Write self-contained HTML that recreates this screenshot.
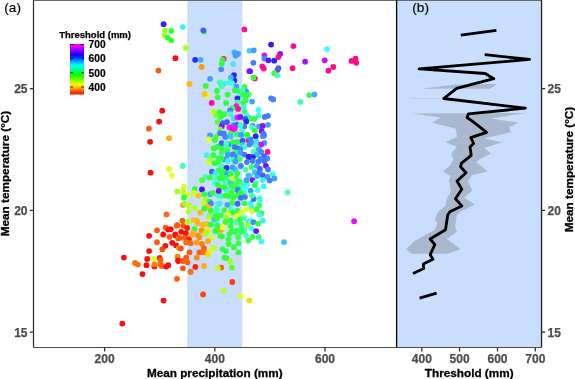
<!DOCTYPE html><html><head><meta charset="utf-8"><style>html,body{margin:0;padding:0;background:#fff;overflow:hidden}</style></head><body><svg width="575" height="379" viewBox="0 0 575 379" style="display:block;will-change:transform"><rect width="575" height="379" fill="#fff"/><rect x="187.2" y="0" width="55.1" height="347.5" fill="#C9DEFC"/><rect x="396.5" y="0" width="145" height="347.5" fill="#C9DEFC"/><circle cx="248.5" cy="140.6" r="2.9" fill="#ff0d9a"/><circle cx="163.6" cy="24.2" r="2.9" fill="#2626ff"/><circle cx="165.1" cy="30.3" r="2.9" fill="#a5ff26"/><circle cx="171.3" cy="30.9" r="2.9" fill="#33ff3a"/><circle cx="164.6" cy="35.5" r="2.9" fill="#9aff26"/><circle cx="167.6" cy="37.8" r="2.9" fill="#33ff3a"/><circle cx="171.3" cy="40.3" r="2.9" fill="#33ff3a"/><circle cx="182.8" cy="27.1" r="2.9" fill="#40efff"/><circle cx="204.1" cy="31.5" r="2.9" fill="#33ff3a"/><circle cx="203.3" cy="30.3" r="2.9" fill="#4060ff"/><circle cx="244.4" cy="29.4" r="2.9" fill="#ff0d9a"/><circle cx="185.9" cy="48.0" r="2.9" fill="#a5ff26"/><circle cx="175.4" cy="58.2" r="2.9" fill="#ff0d0d"/><circle cx="158.5" cy="70.6" r="2.9" fill="#ff550d"/><circle cx="162.2" cy="110.7" r="2.9" fill="#ff0d0d"/><circle cx="159.1" cy="121.6" r="2.9" fill="#ff0d0d"/><circle cx="148.9" cy="128.7" r="2.9" fill="#ff5d0d"/><circle cx="150.1" cy="141.8" r="2.9" fill="#ff0d0d"/><circle cx="169.1" cy="138.2" r="2.9" fill="#ffae0d"/><circle cx="150.6" cy="172.7" r="2.9" fill="#ff0d0d"/><circle cx="169.1" cy="169.1" r="2.9" fill="#dbff26"/><circle cx="171.9" cy="175.5" r="2.9" fill="#edff26"/><circle cx="182.9" cy="166.0" r="2.9" fill="#40ffaf"/><circle cx="195.2" cy="59.8" r="2.9" fill="#2626ff"/><circle cx="200.6" cy="59.8" r="2.9" fill="#40afff"/><circle cx="201.6" cy="66.9" r="2.9" fill="#ff9a0d"/><circle cx="189.5" cy="84.0" r="2.9" fill="#ffb60d"/><circle cx="223.6" cy="59.0" r="2.9" fill="#ff0d86"/><circle cx="222.5" cy="59.8" r="2.9" fill="#33ff3a"/><circle cx="221.7" cy="63.7" r="2.9" fill="#33ff3a"/><circle cx="221.2" cy="69.3" r="2.9" fill="#408fff"/><circle cx="233.2" cy="64.1" r="2.9" fill="#40e5ff"/><circle cx="234.3" cy="52.3" r="2.9" fill="#40afff"/><circle cx="238.0" cy="53.9" r="2.9" fill="#409fff"/><circle cx="235.6" cy="55.5" r="2.9" fill="#4099ff"/><circle cx="249.4" cy="50.8" r="2.9" fill="#40cfff"/><circle cx="249.4" cy="71.2" r="2.9" fill="#860dff"/><circle cx="210.1" cy="78.8" r="2.9" fill="#409fff"/><circle cx="234.0" cy="75.1" r="2.9" fill="#2626ff"/><circle cx="234.3" cy="80.4" r="2.9" fill="#2626ff"/><circle cx="230.8" cy="77.7" r="2.9" fill="#40bfff"/><circle cx="205.8" cy="85.9" r="2.9" fill="#33ff3a"/><circle cx="219.8" cy="82.4" r="2.9" fill="#40ffaf"/><circle cx="224.0" cy="83.5" r="2.9" fill="#40efff"/><circle cx="221.7" cy="86.2" r="2.9" fill="#40ff9f"/><circle cx="228.8" cy="82.4" r="2.9" fill="#40ffcf"/><circle cx="232.0" cy="83.1" r="2.9" fill="#40ffef"/><circle cx="236.4" cy="86.7" r="2.9" fill="#409fff"/><circle cx="234.8" cy="90.3" r="2.9" fill="#33ff3a"/><circle cx="244.6" cy="87.0" r="2.9" fill="#33ff3a"/><circle cx="246.2" cy="91.4" r="2.9" fill="#408fff"/><circle cx="242.2" cy="94.6" r="2.9" fill="#33ff55"/><circle cx="216.9" cy="91.0" r="2.9" fill="#33ff3a"/><circle cx="206.9" cy="95.4" r="2.9" fill="#dbff26"/><circle cx="204.6" cy="93.8" r="2.9" fill="#ffc20d"/><circle cx="217.7" cy="97.3" r="2.9" fill="#33ff3a"/><circle cx="227.7" cy="94.6" r="2.9" fill="#33ff3a"/><circle cx="237.5" cy="98.3" r="2.9" fill="#2626ff"/><circle cx="245.4" cy="98.6" r="2.9" fill="#33ff3a"/><circle cx="271.1" cy="44.6" r="2.9" fill="#490dff"/><circle cx="293.4" cy="46.1" r="2.9" fill="#ff0d9a"/><circle cx="327.0" cy="49.2" r="2.9" fill="#40ffff"/><circle cx="253.8" cy="50.3" r="2.9" fill="#409fff"/><circle cx="264.4" cy="55.5" r="2.9" fill="#d70dff"/><circle cx="264.4" cy="58.6" r="2.9" fill="#408fff"/><circle cx="268.4" cy="60.3" r="2.9" fill="#5d0dff"/><circle cx="274.2" cy="60.7" r="2.9" fill="#2626ff"/><circle cx="280.1" cy="54.0" r="2.9" fill="#9a0dff"/><circle cx="278.4" cy="57.1" r="2.9" fill="#ff0d86"/><circle cx="253.4" cy="62.8" r="2.9" fill="#407fff"/><circle cx="305.1" cy="61.7" r="2.9" fill="#ae0dff"/><circle cx="324.7" cy="60.3" r="2.9" fill="#c20dff"/><circle cx="351.5" cy="60.9" r="2.9" fill="#ff0d86"/><circle cx="355.6" cy="58.6" r="2.9" fill="#ff0d86"/><circle cx="356.3" cy="62.8" r="2.9" fill="#ff0d86"/><circle cx="333.3" cy="67.0" r="2.9" fill="#ff0d86"/><circle cx="328.5" cy="70.7" r="2.9" fill="#ff0d86"/><circle cx="292.6" cy="68.2" r="2.9" fill="#ff0d9a"/><circle cx="250.2" cy="71.3" r="2.9" fill="#860dff"/><circle cx="262.3" cy="66.5" r="2.9" fill="#ff0d9a"/><circle cx="263.8" cy="68.6" r="2.9" fill="#ff0d9a"/><circle cx="277.4" cy="70.1" r="2.9" fill="#ff0d9a"/><circle cx="278.4" cy="68.2" r="2.9" fill="#4060ff"/><circle cx="274.2" cy="73.2" r="2.9" fill="#33ff3a"/><circle cx="277.4" cy="75.3" r="2.9" fill="#40ffbf"/><circle cx="254.8" cy="78.4" r="2.9" fill="#ff0d86"/><circle cx="253.4" cy="77.4" r="2.9" fill="#33ff3a"/><circle cx="271.1" cy="98.3" r="2.9" fill="#4086ff"/><circle cx="273.2" cy="99.4" r="2.9" fill="#4086ff"/><circle cx="309.2" cy="95.1" r="2.9" fill="#33ff55"/><circle cx="314.4" cy="94.5" r="2.9" fill="#40afff"/><circle cx="300.3" cy="101.9" r="2.9" fill="#40ffaf"/><circle cx="211.7" cy="102.9" r="2.9" fill="#ff0d9a"/><circle cx="226.2" cy="102.9" r="2.9" fill="#33ff3a"/><circle cx="237.5" cy="102.3" r="2.9" fill="#40ff9f"/><circle cx="236.2" cy="106.2" r="2.9" fill="#ff0deb"/><circle cx="238.2" cy="108.9" r="2.9" fill="#ff0d9a"/><circle cx="232.3" cy="108.2" r="2.9" fill="#33ff55"/><circle cx="246.8" cy="135.2" r="2.9" fill="#33ff3a"/><circle cx="243.5" cy="137.2" r="2.9" fill="#40ffff"/><circle cx="184.0" cy="186.4" r="2.9" fill="#dbff26"/><circle cx="206.7" cy="155.2" r="2.9" fill="#40efff"/><circle cx="213.3" cy="155.2" r="2.9" fill="#33ff3a"/><circle cx="218.5" cy="158.5" r="2.9" fill="#33ff3a"/><circle cx="210.0" cy="159.8" r="2.9" fill="#9aff26"/><circle cx="208.6" cy="161.8" r="2.9" fill="#c9ff26"/><circle cx="214.6" cy="163.1" r="2.9" fill="#33ff3a"/><circle cx="218.5" cy="162.4" r="2.9" fill="#33ff3a"/><circle cx="214.6" cy="172.3" r="2.9" fill="#40efff"/><circle cx="211.9" cy="171.7" r="2.9" fill="#4060ff"/><circle cx="205.6" cy="176.9" r="2.9" fill="#40ffbf"/><circle cx="210.0" cy="177.6" r="2.9" fill="#33ff3a"/><circle cx="202.0" cy="180.2" r="2.9" fill="#55ff33"/><circle cx="214.6" cy="182.9" r="2.9" fill="#40ffff"/><circle cx="194.8" cy="188.8" r="2.9" fill="#33ff3a"/><circle cx="202.0" cy="189.5" r="2.9" fill="#490dff"/><circle cx="287.7" cy="192.3" r="2.9" fill="#40ffcf"/><circle cx="177.3" cy="191.6" r="2.9" fill="#a5ff26"/><circle cx="183.2" cy="191.6" r="2.9" fill="#b7ff26"/><circle cx="193.7" cy="192.9" r="2.9" fill="#c9ff26"/><circle cx="187.2" cy="194.9" r="2.9" fill="#d4ff26"/><circle cx="198.4" cy="195.6" r="2.9" fill="#ffc20d"/><circle cx="204.3" cy="194.2" r="2.9" fill="#33ff3a"/><circle cx="210.2" cy="194.2" r="2.9" fill="#40afff"/><circle cx="183.9" cy="197.5" r="2.9" fill="#33ff3a"/><circle cx="212.9" cy="192.9" r="2.9" fill="#33ff3a"/><circle cx="205.6" cy="199.5" r="2.9" fill="#a5ff26"/><circle cx="209.6" cy="201.5" r="2.9" fill="#33ff3a"/><circle cx="210.9" cy="203.5" r="2.9" fill="#4086ff"/><circle cx="183.2" cy="204.8" r="2.9" fill="#ff860d"/><circle cx="184.5" cy="203.5" r="2.9" fill="#a5ff26"/><circle cx="189.1" cy="205.4" r="2.9" fill="#b7ff26"/><circle cx="195.1" cy="208.1" r="2.9" fill="#b7ff26"/><circle cx="203.6" cy="203.5" r="2.9" fill="#c9ff26"/><circle cx="206.3" cy="206.8" r="2.9" fill="#ffc20d"/><circle cx="208.3" cy="207.4" r="2.9" fill="#ffc20d"/><circle cx="204.3" cy="208.7" r="2.9" fill="#33ff3a"/><circle cx="218.2" cy="204.1" r="2.9" fill="#40efff"/><circle cx="210.9" cy="210.7" r="2.9" fill="#33ff3a"/><circle cx="216.8" cy="209.4" r="2.9" fill="#40ffbf"/><circle cx="188.5" cy="211.4" r="2.9" fill="#b7ff26"/><circle cx="200.3" cy="212.7" r="2.9" fill="#ffb60d"/><circle cx="209.6" cy="216.7" r="2.9" fill="#33ff3a"/><circle cx="216.8" cy="214.0" r="2.9" fill="#40ffbf"/><circle cx="182.5" cy="220.6" r="2.9" fill="#ff5d0d"/><circle cx="187.8" cy="221.9" r="2.9" fill="#a5ff26"/><circle cx="193.7" cy="220.0" r="2.9" fill="#ffc20d"/><circle cx="197.0" cy="220.6" r="2.9" fill="#ffb60d"/><circle cx="197.7" cy="223.3" r="2.9" fill="#ffb60d"/><circle cx="209.6" cy="217.3" r="2.9" fill="#b7ff26"/><circle cx="214.2" cy="219.3" r="2.9" fill="#40bfff"/><circle cx="215.5" cy="216.0" r="2.9" fill="#33ff3a"/><circle cx="177.3" cy="225.2" r="2.9" fill="#ff5d0d"/><circle cx="183.2" cy="225.9" r="2.9" fill="#ff550d"/><circle cx="203.0" cy="224.6" r="2.9" fill="#ffb60d"/><circle cx="206.9" cy="223.9" r="2.9" fill="#ffc20d"/><circle cx="210.9" cy="224.6" r="2.9" fill="#33ff3a"/><circle cx="216.8" cy="224.6" r="2.9" fill="#40ffbf"/><circle cx="187.2" cy="227.9" r="2.9" fill="#ff210d"/><circle cx="170.7" cy="229.2" r="2.9" fill="#ff0d0d"/><circle cx="181.2" cy="231.8" r="2.9" fill="#ff0d0d"/><circle cx="185.8" cy="233.2" r="2.9" fill="#ff0d0d"/><circle cx="194.4" cy="229.2" r="2.9" fill="#33ff3a"/><circle cx="201.7" cy="230.5" r="2.9" fill="#ff8e0d"/><circle cx="207.6" cy="229.9" r="2.9" fill="#ffeb0d"/><circle cx="193.1" cy="233.2" r="2.9" fill="#ffb60d"/><circle cx="216.2" cy="231.2" r="2.9" fill="#33ff3a"/><circle cx="175.3" cy="234.5" r="2.9" fill="#ff0d0d"/><circle cx="205.0" cy="233.5" r="2.9" fill="#33ff3a"/><circle cx="219.6" cy="203.5" r="2.9" fill="#40efff"/><circle cx="227.5" cy="204.8" r="2.9" fill="#409fff"/><circle cx="232.2" cy="202.8" r="2.9" fill="#33ff3a"/><circle cx="217.0" cy="208.1" r="2.9" fill="#40ffbf"/><circle cx="224.2" cy="210.1" r="2.9" fill="#33ff3a"/><circle cx="230.8" cy="209.4" r="2.9" fill="#40ffbf"/><circle cx="220.9" cy="215.3" r="2.9" fill="#33ff3a"/><circle cx="228.2" cy="213.4" r="2.9" fill="#dbff26"/><circle cx="233.5" cy="212.7" r="2.9" fill="#33ff3a"/><circle cx="217.0" cy="218.6" r="2.9" fill="#33ff3a"/><circle cx="226.2" cy="218.0" r="2.9" fill="#9aff26"/><circle cx="230.8" cy="220.6" r="2.9" fill="#33ff3a"/><circle cx="225.6" cy="221.9" r="2.9" fill="#33ff3a"/><circle cx="217.6" cy="225.9" r="2.9" fill="#33ff3a"/><circle cx="220.9" cy="229.9" r="2.9" fill="#ffa60d"/><circle cx="222.9" cy="227.2" r="2.9" fill="#ffff26"/><circle cx="230.8" cy="225.9" r="2.9" fill="#33ff3a"/><circle cx="216.3" cy="230.5" r="2.9" fill="#33ff3a"/><circle cx="234.8" cy="231.8" r="2.9" fill="#33ff3a"/><circle cx="229.5" cy="233.8" r="2.9" fill="#33ff3a"/><circle cx="166.5" cy="214.4" r="2.9" fill="#ff660d"/><circle cx="157.0" cy="230.3" r="2.9" fill="#ff5d0d"/><circle cx="165.6" cy="227.6" r="2.9" fill="#ff5d0d"/><circle cx="168.3" cy="229.6" r="2.9" fill="#ff0d0d"/><circle cx="176.8" cy="225.7" r="2.9" fill="#ff5d0d"/><circle cx="149.1" cy="235.8" r="2.9" fill="#ff0d0d"/><circle cx="163.2" cy="234.5" r="2.9" fill="#ff0d0d"/><circle cx="169.6" cy="236.9" r="2.9" fill="#ff5d0d"/><circle cx="175.5" cy="235.6" r="2.9" fill="#ff0d0d"/><circle cx="178.2" cy="238.2" r="2.9" fill="#ff660d"/><circle cx="157.0" cy="242.2" r="2.9" fill="#ff5d0d"/><circle cx="172.2" cy="242.8" r="2.9" fill="#ff0d0d"/><circle cx="165.4" cy="245.8" r="2.9" fill="#ff0d0d"/><circle cx="176.2" cy="245.4" r="2.9" fill="#ff0d0d"/><circle cx="162.3" cy="249.4" r="2.9" fill="#ff490d"/><circle cx="178.8" cy="248.1" r="2.9" fill="#ff9a0d"/><circle cx="149.1" cy="251.1" r="2.9" fill="#ff0d0d"/><circle cx="123.9" cy="257.6" r="2.9" fill="#ff0d0d"/><circle cx="177.5" cy="256.7" r="2.9" fill="#ff7e0d"/><circle cx="178.2" cy="260.6" r="2.9" fill="#ff0d0d"/><circle cx="147.2" cy="259.0" r="2.9" fill="#ff0d0d"/><circle cx="153.7" cy="259.0" r="2.9" fill="#e2ff26"/><circle cx="159.7" cy="258.0" r="2.9" fill="#ff210d"/><circle cx="160.6" cy="260.0" r="2.9" fill="#ff550d"/><circle cx="135.0" cy="263.0" r="2.9" fill="#ff6e0d"/><circle cx="137.9" cy="264.6" r="2.9" fill="#ff6e0d"/><circle cx="146.5" cy="265.2" r="2.9" fill="#ff0d0d"/><circle cx="154.4" cy="266.6" r="2.9" fill="#ff0d0d"/><circle cx="154.4" cy="264.3" r="2.9" fill="#ff7e0d"/><circle cx="160.3" cy="263.9" r="2.9" fill="#ff660d"/><circle cx="161.7" cy="265.9" r="2.9" fill="#ff550d"/><circle cx="166.3" cy="266.6" r="2.9" fill="#ff0d0d"/><circle cx="168.3" cy="265.2" r="2.9" fill="#ff0d0d"/><circle cx="142.5" cy="274.1" r="2.9" fill="#ff0d0d"/><circle cx="179.6" cy="237.9" r="2.9" fill="#ff550d"/><circle cx="184.9" cy="237.9" r="2.9" fill="#ff5d0d"/><circle cx="188.9" cy="239.2" r="2.9" fill="#ff210d"/><circle cx="192.2" cy="234.6" r="2.9" fill="#ffae0d"/><circle cx="198.1" cy="235.3" r="2.9" fill="#ff8e0d"/><circle cx="205.3" cy="233.3" r="2.9" fill="#ffd70d"/><circle cx="206.7" cy="232.6" r="2.9" fill="#a5ff26"/><circle cx="211.9" cy="237.3" r="2.9" fill="#d4ff26"/><circle cx="215.2" cy="231.3" r="2.9" fill="#33ff3a"/><circle cx="220.5" cy="235.9" r="2.9" fill="#33ff3a"/><circle cx="199.4" cy="237.3" r="2.9" fill="#ff8e0d"/><circle cx="208.0" cy="241.2" r="2.9" fill="#ffae0d"/><circle cx="186.2" cy="242.5" r="2.9" fill="#ff6e0d"/><circle cx="190.8" cy="243.2" r="2.9" fill="#ff6e0d"/><circle cx="196.8" cy="242.5" r="2.9" fill="#ff9e0d"/><circle cx="202.0" cy="243.9" r="2.9" fill="#ff7e0d"/><circle cx="180.9" cy="248.5" r="2.9" fill="#ff550d"/><circle cx="204.0" cy="248.5" r="2.9" fill="#ff5d0d"/><circle cx="213.9" cy="247.8" r="2.9" fill="#b7ff26"/><circle cx="210.6" cy="250.4" r="2.9" fill="#d4ff26"/><circle cx="222.5" cy="249.1" r="2.9" fill="#33ff3a"/><circle cx="189.5" cy="252.4" r="2.9" fill="#ff5d0d"/><circle cx="199.4" cy="252.4" r="2.9" fill="#ff5d0d"/><circle cx="204.0" cy="252.4" r="2.9" fill="#ff6e0d"/><circle cx="208.0" cy="254.4" r="2.9" fill="#ffd70d"/><circle cx="186.2" cy="257.7" r="2.9" fill="#ff5d0d"/><circle cx="196.8" cy="257.7" r="2.9" fill="#ff8e0d"/><circle cx="224.5" cy="257.7" r="2.9" fill="#33ff3a"/><circle cx="178.3" cy="261.0" r="2.9" fill="#ff0d0d"/><circle cx="182.9" cy="261.0" r="2.9" fill="#ff550d"/><circle cx="187.5" cy="262.3" r="2.9" fill="#ff5d0d"/><circle cx="195.4" cy="266.9" r="2.9" fill="#ff210d"/><circle cx="204.0" cy="265.9" r="2.9" fill="#ffae0d"/><circle cx="182.9" cy="268.3" r="2.9" fill="#ff550d"/><circle cx="190.6" cy="272.0" r="2.9" fill="#ff6e0d"/><circle cx="221.2" cy="267.6" r="2.9" fill="#ff5d0d"/><circle cx="217.9" cy="268.3" r="2.9" fill="#b7ff26"/><circle cx="177.0" cy="278.8" r="2.9" fill="#ff5d0d"/><circle cx="231.9" cy="230.7" r="2.9" fill="#33ff3a"/><circle cx="261.3" cy="241.6" r="2.9" fill="#40f9ff"/><circle cx="228.6" cy="239.2" r="2.9" fill="#33ff3a"/><circle cx="248.4" cy="240.6" r="2.9" fill="#33ff55"/><circle cx="228.6" cy="243.9" r="2.9" fill="#33ff3a"/><circle cx="238.5" cy="243.2" r="2.9" fill="#33ff3a"/><circle cx="233.9" cy="247.2" r="2.9" fill="#33ff3a"/><circle cx="225.9" cy="251.1" r="2.9" fill="#33ff4e"/><circle cx="238.5" cy="252.4" r="2.9" fill="#33ff3a"/><circle cx="226.6" cy="258.1" r="2.9" fill="#33ff3a"/><circle cx="230.3" cy="261.7" r="2.9" fill="#a5ff26"/><circle cx="231.9" cy="267.6" r="2.9" fill="#55ff33"/><circle cx="163.6" cy="300.6" r="2.9" fill="#ff0d0d"/><circle cx="122.3" cy="323.6" r="2.9" fill="#ff0d0d"/><circle cx="232.3" cy="282.0" r="2.9" fill="#ff3d0d"/><circle cx="223.6" cy="290.7" r="2.9" fill="#beff26"/><circle cx="203.1" cy="294.4" r="2.9" fill="#ff450d"/><circle cx="240.6" cy="296.4" r="2.9" fill="#e2ff26"/><circle cx="249.5" cy="300.5" r="2.9" fill="#ffd70d"/><circle cx="354.1" cy="221.2" r="2.9" fill="#eb0dff"/><circle cx="284.1" cy="242.1" r="2.9" fill="#40bfff"/><circle cx="221.6" cy="143.2" r="2.9" fill="#4066ff"/><circle cx="228.7" cy="144.4" r="2.9" fill="#407fff"/><circle cx="226.3" cy="143.6" r="2.9" fill="#40ffbf"/><circle cx="233.1" cy="142.4" r="2.9" fill="#33ff3a"/><circle cx="237.8" cy="142.0" r="2.9" fill="#33ff3a"/><circle cx="242.6" cy="140.8" r="2.9" fill="#4050ff"/><circle cx="243.0" cy="144.8" r="2.9" fill="#40bfff"/><circle cx="244.5" cy="147.1" r="2.9" fill="#40ffbf"/><circle cx="234.6" cy="147.1" r="2.9" fill="#4079ff"/><circle cx="237.8" cy="148.3" r="2.9" fill="#4066ff"/><circle cx="240.2" cy="149.5" r="2.9" fill="#4086ff"/><circle cx="222.0" cy="148.3" r="2.9" fill="#33ff3a"/><circle cx="221.6" cy="152.7" r="2.9" fill="#33ff77"/><circle cx="227.9" cy="148.7" r="2.9" fill="#40ff9f"/><circle cx="227.1" cy="151.9" r="2.9" fill="#33ff3a"/><circle cx="235.8" cy="152.3" r="2.9" fill="#33ff3a"/><circle cx="232.7" cy="154.3" r="2.9" fill="#4079ff"/><circle cx="227.9" cy="155.0" r="2.9" fill="#409fff"/><circle cx="235.0" cy="156.6" r="2.9" fill="#4086ff"/><circle cx="240.6" cy="152.7" r="2.9" fill="#409fff"/><circle cx="244.5" cy="154.6" r="2.9" fill="#4079ff"/><circle cx="248.5" cy="157.0" r="2.9" fill="#3826ff"/><circle cx="224.4" cy="159.4" r="2.9" fill="#4099ff"/><circle cx="221.2" cy="158.2" r="2.9" fill="#33ff3a"/><circle cx="227.9" cy="161.0" r="2.9" fill="#40efff"/><circle cx="232.7" cy="159.8" r="2.9" fill="#40ffaf"/><circle cx="239.8" cy="159.0" r="2.9" fill="#33ff66"/><circle cx="235.4" cy="161.4" r="2.9" fill="#409fff"/><circle cx="255.7" cy="136.2" r="2.9" fill="#2626ff"/><circle cx="264.0" cy="135.4" r="2.9" fill="#4079ff"/><circle cx="262.8" cy="136.2" r="2.9" fill="#4099ff"/><circle cx="250.5" cy="139.4" r="2.9" fill="#4086ff"/><circle cx="249.4" cy="144.5" r="2.9" fill="#4086ff"/><circle cx="253.3" cy="142.9" r="2.9" fill="#408fff"/><circle cx="256.5" cy="141.7" r="2.9" fill="#40dfff"/><circle cx="255.7" cy="145.7" r="2.9" fill="#40ffbf"/><circle cx="264.4" cy="142.9" r="2.9" fill="#4099ff"/><circle cx="261.2" cy="144.5" r="2.9" fill="#d70dff"/><circle cx="267.6" cy="152.0" r="2.9" fill="#ff0d9a"/><circle cx="253.7" cy="151.6" r="2.9" fill="#40ffbf"/><circle cx="258.9" cy="149.6" r="2.9" fill="#409fff"/><circle cx="261.2" cy="152.0" r="2.9" fill="#408fff"/><circle cx="256.9" cy="154.8" r="2.9" fill="#40afff"/><circle cx="249.8" cy="156.8" r="2.9" fill="#2626ff"/><circle cx="252.9" cy="157.2" r="2.9" fill="#3826ff"/><circle cx="264.0" cy="156.4" r="2.9" fill="#4060ff"/><circle cx="267.2" cy="158.4" r="2.9" fill="#4086ff"/><circle cx="260.8" cy="158.8" r="2.9" fill="#4086ff"/><circle cx="230.1" cy="110.5" r="2.9" fill="#4086ff"/><circle cx="213.7" cy="111.6" r="2.9" fill="#b7ff26"/><circle cx="219.5" cy="112.1" r="2.9" fill="#33ff3a"/><circle cx="224.3" cy="114.2" r="2.9" fill="#33ff3a"/><circle cx="215.8" cy="115.3" r="2.9" fill="#88ff33"/><circle cx="220.6" cy="116.9" r="2.9" fill="#33ff3a"/><circle cx="230.6" cy="114.2" r="2.9" fill="#40ffbf"/><circle cx="233.8" cy="118.4" r="2.9" fill="#40dfff"/><circle cx="237.5" cy="117.4" r="2.9" fill="#ff0dff"/><circle cx="217.4" cy="122.1" r="2.9" fill="#55ff33"/><circle cx="222.7" cy="123.2" r="2.9" fill="#4066ff"/><circle cx="226.9" cy="122.1" r="2.9" fill="#4059ff"/><circle cx="221.6" cy="126.4" r="2.9" fill="#8e0dff"/><circle cx="220.1" cy="129.5" r="2.9" fill="#77ff33"/><circle cx="233.8" cy="125.3" r="2.9" fill="#4079ff"/><circle cx="236.9" cy="124.8" r="2.9" fill="#4059ff"/><circle cx="229.6" cy="127.4" r="2.9" fill="#ff0dff"/><circle cx="232.7" cy="129.5" r="2.9" fill="#d70dff"/><circle cx="234.8" cy="128.5" r="2.9" fill="#ff0deb"/><circle cx="230.6" cy="133.7" r="2.9" fill="#33ff3a"/><circle cx="236.9" cy="134.3" r="2.9" fill="#33ff55"/><circle cx="210.0" cy="135.3" r="2.9" fill="#409fff"/><circle cx="215.8" cy="136.9" r="2.9" fill="#55ff33"/><circle cx="220.1" cy="133.2" r="2.9" fill="#4086ff"/><circle cx="223.7" cy="133.7" r="2.9" fill="#4079ff"/><circle cx="225.3" cy="136.9" r="2.9" fill="#4086ff"/><circle cx="230.6" cy="136.5" r="2.9" fill="#40bfff"/><circle cx="209.0" cy="139.5" r="2.9" fill="#e2ff26"/><circle cx="214.8" cy="140.1" r="2.9" fill="#33ff3a"/><circle cx="217.4" cy="146.9" r="2.9" fill="#33ff3a"/><circle cx="213.7" cy="148.5" r="2.9" fill="#33ff3a"/><circle cx="237.6" cy="203.7" r="2.9" fill="#4066ff"/><circle cx="244.5" cy="203.2" r="2.9" fill="#33ff3a"/><circle cx="250.8" cy="203.2" r="2.9" fill="#40efff"/><circle cx="251.4" cy="207.4" r="2.9" fill="#40ffbf"/><circle cx="259.3" cy="205.3" r="2.9" fill="#33ff66"/><circle cx="259.8" cy="200.5" r="2.9" fill="#40ffcf"/><circle cx="256.6" cy="209.5" r="2.9" fill="#33ff4e"/><circle cx="245.6" cy="209.5" r="2.9" fill="#e2ff26"/><circle cx="251.9" cy="211.1" r="2.9" fill="#d4ff26"/><circle cx="237.6" cy="210.6" r="2.9" fill="#33ff4e"/><circle cx="240.8" cy="212.7" r="2.9" fill="#d4ff26"/><circle cx="236.6" cy="216.4" r="2.9" fill="#edff26"/><circle cx="261.4" cy="213.2" r="2.9" fill="#33ff3a"/><circle cx="259.3" cy="214.8" r="2.9" fill="#40ffef"/><circle cx="244.0" cy="217.9" r="2.9" fill="#40ffbf"/><circle cx="248.7" cy="221.6" r="2.9" fill="#33ff4e"/><circle cx="250.3" cy="220.6" r="2.9" fill="#40ffff"/><circle cx="253.5" cy="222.2" r="2.9" fill="#408fff"/><circle cx="263.0" cy="220.6" r="2.9" fill="#40efff"/><circle cx="258.2" cy="223.7" r="2.9" fill="#33ff3a"/><circle cx="248.2" cy="225.3" r="2.9" fill="#a5ff26"/><circle cx="236.6" cy="222.2" r="2.9" fill="#40ffaf"/><circle cx="241.3" cy="224.3" r="2.9" fill="#33ff4e"/><circle cx="244.5" cy="230.1" r="2.9" fill="#40ffaf"/><circle cx="251.4" cy="228.5" r="2.9" fill="#40ffff"/><circle cx="256.1" cy="231.1" r="2.9" fill="#720dff"/><circle cx="237.1" cy="230.6" r="2.9" fill="#33ff4e"/><circle cx="246.1" cy="235.4" r="2.9" fill="#40ffcf"/><circle cx="252.4" cy="236.9" r="2.9" fill="#33ff4e"/><circle cx="258.7" cy="236.9" r="2.9" fill="#33ff77"/><circle cx="238.2" cy="236.9" r="2.9" fill="#33ff4e"/><circle cx="241.5" cy="232.0" r="2.9" fill="#33ff4e"/><circle cx="242.0" cy="227.5" r="2.9" fill="#33ff77"/><circle cx="240.0" cy="219.5" r="2.9" fill="#33ff4e"/><circle cx="246.9" cy="162.1" r="2.9" fill="#407fff"/><circle cx="252.7" cy="161.1" r="2.9" fill="#407fff"/><circle cx="258.5" cy="161.6" r="2.9" fill="#4079ff"/><circle cx="264.3" cy="161.1" r="2.9" fill="#4079ff"/><circle cx="251.6" cy="166.9" r="2.9" fill="#33ff66"/><circle cx="256.9" cy="165.8" r="2.9" fill="#409fff"/><circle cx="265.9" cy="165.8" r="2.9" fill="#720dff"/><circle cx="260.0" cy="169.0" r="2.9" fill="#4066ff"/><circle cx="268.0" cy="169.5" r="2.9" fill="#407fff"/><circle cx="254.8" cy="172.1" r="2.9" fill="#40bfff"/><circle cx="250.0" cy="175.8" r="2.9" fill="#40d9ff"/><circle cx="262.7" cy="175.3" r="2.9" fill="#4059ff"/><circle cx="272.7" cy="174.2" r="2.9" fill="#40ffd9"/><circle cx="274.3" cy="178.5" r="2.9" fill="#409fff"/><circle cx="267.4" cy="176.9" r="2.9" fill="#4099ff"/><circle cx="269.6" cy="180.6" r="2.9" fill="#407fff"/><circle cx="252.5" cy="180.1" r="2.9" fill="#7e0dff"/><circle cx="255.8" cy="182.7" r="2.9" fill="#40ffb9"/><circle cx="262.7" cy="180.1" r="2.9" fill="#40efff"/><circle cx="263.7" cy="186.4" r="2.9" fill="#40efff"/><circle cx="254.8" cy="185.3" r="2.9" fill="#33ff4e"/><circle cx="250.6" cy="190.6" r="2.9" fill="#4099ff"/><circle cx="253.7" cy="199.0" r="2.9" fill="#4079ff"/><circle cx="259.5" cy="198.5" r="2.9" fill="#40ffbf"/><circle cx="257.5" cy="190.0" r="2.9" fill="#40ffef"/><circle cx="257.0" cy="176.0" r="2.9" fill="#40afff"/><circle cx="259.5" cy="172.5" r="2.9" fill="#4079ff"/><circle cx="252.0" cy="195.5" r="2.9" fill="#40ff9f"/><circle cx="245.8" cy="100.5" r="2.9" fill="#33ff4e"/><circle cx="252.1" cy="101.6" r="2.9" fill="#409fff"/><circle cx="243.7" cy="106.9" r="2.9" fill="#40efff"/><circle cx="244.7" cy="111.6" r="2.9" fill="#33ff66"/><circle cx="258.5" cy="110.0" r="2.9" fill="#40ffff"/><circle cx="258.5" cy="115.8" r="2.9" fill="#40ffcf"/><circle cx="250.0" cy="118.5" r="2.9" fill="#33ff3a"/><circle cx="254.2" cy="119.0" r="2.9" fill="#33ff3a"/><circle cx="264.8" cy="116.9" r="2.9" fill="#407fff"/><circle cx="268.0" cy="115.8" r="2.9" fill="#407fff"/><circle cx="240.5" cy="116.9" r="2.9" fill="#8e0dff"/><circle cx="246.9" cy="115.8" r="2.9" fill="#40efff"/><circle cx="245.3" cy="119.0" r="2.9" fill="#4059ff"/><circle cx="246.3" cy="121.6" r="2.9" fill="#2626ff"/><circle cx="268.0" cy="124.8" r="2.9" fill="#409fff"/><circle cx="244.2" cy="126.4" r="2.9" fill="#407fff"/><circle cx="240.5" cy="125.3" r="2.9" fill="#40ffbf"/><circle cx="252.7" cy="125.9" r="2.9" fill="#407fff"/><circle cx="252.1" cy="127.4" r="2.9" fill="#40ffbf"/><circle cx="259.0" cy="126.4" r="2.9" fill="#409fff"/><circle cx="262.7" cy="125.9" r="2.9" fill="#8e0dff"/><circle cx="261.6" cy="131.1" r="2.9" fill="#8e0dff"/><circle cx="254.8" cy="130.6" r="2.9" fill="#33ff3a"/><circle cx="263.7" cy="133.8" r="2.9" fill="#407fff"/><circle cx="242.1" cy="131.1" r="2.9" fill="#40ffbf"/><circle cx="247.4" cy="134.8" r="2.9" fill="#33ff3a"/><circle cx="241.1" cy="134.8" r="2.9" fill="#4099ff"/><circle cx="222.0" cy="236.6" r="2.9" fill="#33ff3a"/><circle cx="238.6" cy="91.2" r="2.9" fill="#33ff77"/><circle cx="242.5" cy="89.9" r="2.9" fill="#40ffaf"/><circle cx="243.9" cy="94.5" r="2.9" fill="#33ff4e"/><circle cx="248.5" cy="94.5" r="2.9" fill="#33ff66"/><circle cx="243.2" cy="102.4" r="2.9" fill="#33ff4e"/><circle cx="216.5" cy="178.0" r="2.9" fill="#40ffbf"/><circle cx="222.0" cy="175.5" r="2.9" fill="#33ff3a"/><circle cx="235.5" cy="186.5" r="2.9" fill="#33ff4e"/><circle cx="239.5" cy="187.5" r="2.9" fill="#33ff77"/><circle cx="219.5" cy="187.5" r="2.9" fill="#33ff3a"/><circle cx="229.0" cy="196.0" r="2.9" fill="#33ff3a"/><circle cx="237.0" cy="195.5" r="2.9" fill="#33ff3a"/><circle cx="221.5" cy="196.0" r="2.9" fill="#40ff9f"/><circle cx="244.5" cy="191.5" r="2.9" fill="#40ffdf"/><circle cx="247.5" cy="184.5" r="2.9" fill="#40ffef"/><circle cx="228.5" cy="170.0" r="2.9" fill="#40ffbf"/><circle cx="235.0" cy="169.5" r="2.9" fill="#40bfff"/><circle cx="229.0" cy="182.0" r="2.9" fill="#33ff3a"/><circle cx="236.5" cy="182.0" r="2.9" fill="#33ff77"/><circle cx="248.5" cy="175.5" r="2.9" fill="#40bfff"/><circle cx="221.5" cy="165.9" r="2.9" fill="#40ffbf"/><circle cx="226.5" cy="167.8" r="2.9" fill="#262dff"/><circle cx="232.5" cy="167.3" r="2.9" fill="#409fff"/><circle cx="240.9" cy="165.9" r="2.9" fill="#407fff"/><circle cx="245.5" cy="169.6" r="2.9" fill="#40ffaf"/><circle cx="218.7" cy="170.5" r="2.9" fill="#33ff3a"/><circle cx="223.3" cy="171.5" r="2.9" fill="#33ff3a"/><circle cx="215.5" cy="173.3" r="2.9" fill="#40efff"/><circle cx="227.0" cy="174.2" r="2.9" fill="#409fff"/><circle cx="230.7" cy="173.8" r="2.9" fill="#33ff3a"/><circle cx="237.2" cy="173.3" r="2.9" fill="#33ff3a"/><circle cx="220.5" cy="178.4" r="2.9" fill="#33ff3a"/><circle cx="225.5" cy="178.0" r="2.9" fill="#33ff66"/><circle cx="236.0" cy="178.5" r="2.9" fill="#33ff55"/><circle cx="232.5" cy="179.3" r="2.9" fill="#d4ff26"/><circle cx="246.4" cy="180.2" r="2.9" fill="#409fff"/><circle cx="225.2" cy="182.5" r="2.9" fill="#40ffbf"/><circle cx="239.9" cy="181.6" r="2.9" fill="#33ff3a"/><circle cx="242.7" cy="184.4" r="2.9" fill="#40ffbf"/><circle cx="231.2" cy="183.5" r="2.9" fill="#40bfff"/><circle cx="217.8" cy="184.4" r="2.9" fill="#33ff3a"/><circle cx="231.6" cy="186.2" r="2.9" fill="#33ff3a"/><circle cx="245.5" cy="188.1" r="2.9" fill="#40ffff"/><circle cx="226.1" cy="189.5" r="2.9" fill="#40efff"/><circle cx="224.2" cy="187.2" r="2.9" fill="#33ff3a"/><circle cx="237.6" cy="189.9" r="2.9" fill="#407fff"/><circle cx="231.6" cy="191.8" r="2.9" fill="#33ff3a"/><circle cx="240.9" cy="192.7" r="2.9" fill="#33ff3a"/><circle cx="240.9" cy="197.8" r="2.9" fill="#4070ff"/><circle cx="245.0" cy="196.9" r="2.9" fill="#407fff"/><circle cx="217.8" cy="195.5" r="2.9" fill="#40ffbf"/><circle cx="226.1" cy="195.5" r="2.9" fill="#33ff3a"/><circle cx="233.5" cy="197.3" r="2.9" fill="#33ff3a"/><circle cx="218.7" cy="190.9" r="2.9" fill="#860dff"/><path d="M33.5 0V347.5" fill="none" stroke="#2a2a2a" stroke-width="1.2"/><path d="M33.5 347.5H396.5" fill="none" stroke="#4a4a4a" stroke-width="1.2"/><path d="M33.5 0.5H541.5" fill="none" stroke="#6a6a6a" stroke-width="1"/><path d="M29.8 332.1H33.5" stroke="#333" stroke-width="1.3"/><text x="27.5" y="336.8" text-anchor="end" font-family='"Liberation Sans", sans-serif' font-weight="bold" font-size="12" fill="#4D4D4D" stroke="#4D4D4D" stroke-width="0.25">15</text><path d="M29.8 210.4H33.5" stroke="#333" stroke-width="1.3"/><text x="27.5" y="215.1" text-anchor="end" font-family='"Liberation Sans", sans-serif' font-weight="bold" font-size="12" fill="#4D4D4D" stroke="#4D4D4D" stroke-width="0.25">20</text><path d="M29.8 88.7H33.5" stroke="#333" stroke-width="1.3"/><text x="27.5" y="93.4" text-anchor="end" font-family='"Liberation Sans", sans-serif' font-weight="bold" font-size="12" fill="#4D4D4D" stroke="#4D4D4D" stroke-width="0.25">25</text><path d="M104.6 347.5V351.5" stroke="#333" stroke-width="1.3"/><text x="104.6" y="362.9" text-anchor="middle" font-family='"Liberation Sans", sans-serif' font-weight="bold" font-size="12" fill="#4D4D4D" stroke="#4D4D4D" stroke-width="0.25">200</text><path d="M214.8 347.5V351.5" stroke="#333" stroke-width="1.3"/><text x="214.8" y="362.9" text-anchor="middle" font-family='"Liberation Sans", sans-serif' font-weight="bold" font-size="12" fill="#4D4D4D" stroke="#4D4D4D" stroke-width="0.25">400</text><path d="M325.0 347.5V351.5" stroke="#333" stroke-width="1.3"/><text x="325.0" y="362.9" text-anchor="middle" font-family='"Liberation Sans", sans-serif' font-weight="bold" font-size="12" fill="#4D4D4D" stroke="#4D4D4D" stroke-width="0.25">600</text><text x="214.8" y="376.6" text-anchor="middle" font-family='"Liberation Sans", sans-serif' font-weight="bold" font-size="11.75" fill="#000" stroke="#000" stroke-width="0.3">Mean precipitation (mm)</text><text transform="translate(9.2 173.5) rotate(-90)" text-anchor="middle" font-family='"Liberation Sans", sans-serif' font-weight="bold" font-size="11.75" fill="#000" stroke="#000" stroke-width="0.3">Mean temperature (°C)</text><text x="4.3" y="12.4" font-family='"Liberation Sans", sans-serif' font-size="13.6" fill="#000" stroke="#000" stroke-width="0.15">(a)</text><text x="59.2" y="38.4" font-family='"Liberation Sans", sans-serif' font-weight="bold" font-size="9.5" fill="#000" stroke="#000" stroke-width="0.25">Threshold (mm)</text><defs><linearGradient id="cb" x1="0" y1="1" x2="0" y2="0"><stop offset="0.000" stop-color="#ff0000"/><stop offset="0.042" stop-color="#ff3700"/><stop offset="0.083" stop-color="#ff6e00"/><stop offset="0.125" stop-color="#ffa500"/><stop offset="0.167" stop-color="#ffdc00"/><stop offset="0.208" stop-color="#ecff00"/><stop offset="0.250" stop-color="#b5ff00"/><stop offset="0.292" stop-color="#7eff00"/><stop offset="0.333" stop-color="#47ff00"/><stop offset="0.375" stop-color="#10ff00"/><stop offset="0.417" stop-color="#00ff27"/><stop offset="0.458" stop-color="#00ff5e"/><stop offset="0.500" stop-color="#00ff95"/><stop offset="0.542" stop-color="#00ffcc"/><stop offset="0.583" stop-color="#00fbff"/><stop offset="0.625" stop-color="#00c5ff"/><stop offset="0.667" stop-color="#008eff"/><stop offset="0.708" stop-color="#0057ff"/><stop offset="0.750" stop-color="#0020ff"/><stop offset="0.792" stop-color="#1700ff"/><stop offset="0.833" stop-color="#4e00ff"/><stop offset="0.875" stop-color="#8500ff"/><stop offset="0.917" stop-color="#bc00ff"/><stop offset="0.958" stop-color="#f300ff"/><stop offset="1.000" stop-color="#ff00d4"/></linearGradient></defs><rect x="70" y="44" width="14" height="50.5" fill="url(#cb)"/><path d="M70 44.4H73M81 44.4H84" stroke="#000" stroke-width="1" opacity="0.8"/><text x="88.6" y="48.1" font-family='"Liberation Sans", sans-serif' font-weight="bold" font-size="10.2" fill="#000" stroke="#000" stroke-width="0.2">700</text><path d="M70 58.5H73M81 58.5H84" stroke="#000" stroke-width="1" opacity="0.8"/><text x="88.6" y="62.2" font-family='"Liberation Sans", sans-serif' font-weight="bold" font-size="10.2" fill="#000" stroke="#000" stroke-width="0.2">600</text><path d="M70 72.7H73M81 72.7H84" stroke="#000" stroke-width="1" opacity="0.8"/><text x="88.6" y="76.5" font-family='"Liberation Sans", sans-serif' font-weight="bold" font-size="10.2" fill="#000" stroke="#000" stroke-width="0.2">500</text><path d="M70 87.0H73M81 87.0H84" stroke="#000" stroke-width="1" opacity="0.8"/><text x="88.6" y="90.8" font-family='"Liberation Sans", sans-serif' font-weight="bold" font-size="10.2" fill="#000" stroke="#000" stroke-width="0.2">400</text><path d="M411.8 113.6 L526.0 112.9 L490.9 118.6 L518.0 122.6 L509.0 127.6 L511.3 132.1 L484.1 138.5 L502.2 142.3 L484.1 148.0 L490.9 153.6 L479.6 159.3 L485.4 155.0 L476.0 162.0 L487.8 171.6 L472.4 175.1 L467.7 181.0 L472.4 190.5 L464.1 197.6 L474.8 204.7 L460.6 211.8 L457.0 215.0 L455.1 226.0 L457.0 231.6 L446.8 239.0 L460.7 249.2 L447.7 253.8 L411.7 253.8 L406.2 249.2 L414.5 240.9 L434.8 229.8 L437.6 222.4 L434.6 220.0 L438.1 211.8 L445.2 205.9 L446.4 200.0 L451.1 190.5 L448.8 179.8 L451.1 176.3 L442.8 171.6 L450.0 165.6 L455.9 155.0 L453.6 160.0 L451.3 153.6 L457.0 146.8 L445.7 142.3 L457.0 136.7 L455.9 128.7 L432.1 122.6 L441.2 117.4Z" fill="#A9B8CC"/><path d="M421.5 88.8 L455.4 84.6 L497.2 84.1 L490.2 88.8Z" fill="#A9B8CC"/><path d="M412 98.5H440" stroke="#B0BED0" stroke-width="0.6"/><path d="M460.8 35.2 L496.4 30.3" fill="none" stroke="#000" stroke-width="2.8" stroke-linejoin="round"/><path d="M484.7 54.6 L529.6 59.4 L419.1 68.9 L485.2 73.5 L493.8 78.7 L456.7 88.3 L443.7 98.5 L525.4 108.2 L468.4 113.9 L467.0 117.5 L473.6 122.2 L486.6 132.4 L470.8 137.6 L473.6 143.5 L470.0 147.0 L471.2 155.3 L461.3 163.3 L460.6 166.8 L466.0 172.7 L457.0 181.0 L461.8 189.3 L455.4 198.8 L461.8 205.9 L449.9 211.8 L447.7 215.0 L445.5 229.8 L430.2 239.0 L434.8 244.6 L430.2 254.7 L433.0 259.3 L423.3 264.0 L423.7 268.6 L413.0 273.5" fill="none" stroke="#000" stroke-width="2.8" stroke-linejoin="round"/><path d="M419.6 298.1 L436.6 293.1" fill="none" stroke="#000" stroke-width="2.8" stroke-linejoin="round"/><path d="M396.6 0V347.5" stroke="#000" stroke-width="1.3"/><path d="M541.55 0V347.5" stroke="#222" stroke-width="1.3"/><path d="M396.5 347.5H541.5" stroke="#4a4a4a" stroke-width="1.2"/><path d="M421.8 347.5V351.5" stroke="#333" stroke-width="1.3"/><text x="421.8" y="362.9" text-anchor="middle" font-family='"Liberation Sans", sans-serif' font-weight="bold" font-size="12" fill="#4D4D4D" stroke="#4D4D4D" stroke-width="0.25">400</text><path d="M459.6 347.5V351.5" stroke="#333" stroke-width="1.3"/><text x="459.6" y="362.9" text-anchor="middle" font-family='"Liberation Sans", sans-serif' font-weight="bold" font-size="12" fill="#4D4D4D" stroke="#4D4D4D" stroke-width="0.25">500</text><path d="M497.5 347.5V351.5" stroke="#333" stroke-width="1.3"/><text x="497.5" y="362.9" text-anchor="middle" font-family='"Liberation Sans", sans-serif' font-weight="bold" font-size="12" fill="#4D4D4D" stroke="#4D4D4D" stroke-width="0.25">600</text><path d="M535.3 347.5V351.5" stroke="#333" stroke-width="1.3"/><text x="535.3" y="362.9" text-anchor="middle" font-family='"Liberation Sans", sans-serif' font-weight="bold" font-size="12" fill="#4D4D4D" stroke="#4D4D4D" stroke-width="0.25">700</text><path d="M541.5 332.1H545.1" stroke="#333" stroke-width="1.3"/><text x="547.6" y="336.8" font-family='"Liberation Sans", sans-serif' font-weight="bold" font-size="12" fill="#4D4D4D" stroke="#4D4D4D" stroke-width="0.25">15</text><path d="M541.5 210.4H545.1" stroke="#333" stroke-width="1.3"/><text x="547.6" y="215.1" font-family='"Liberation Sans", sans-serif' font-weight="bold" font-size="12" fill="#4D4D4D" stroke="#4D4D4D" stroke-width="0.25">20</text><path d="M541.5 88.7H545.1" stroke="#333" stroke-width="1.3"/><text x="547.6" y="93.4" font-family='"Liberation Sans", sans-serif' font-weight="bold" font-size="12" fill="#4D4D4D" stroke="#4D4D4D" stroke-width="0.25">25</text><text x="469.2" y="376.6" text-anchor="middle" font-family='"Liberation Sans", sans-serif' font-weight="bold" font-size="11.75" fill="#000" stroke="#000" stroke-width="0.3">Threshold (mm)</text><text transform="translate(573.2 169.5) rotate(-90)" text-anchor="middle" font-family='"Liberation Sans", sans-serif' font-weight="bold" font-size="11.75" fill="#000" stroke="#000" stroke-width="0.3">Mean temperature (°C)</text><text x="412.3" y="12.4" font-family='"Liberation Sans", sans-serif' font-size="13.6" fill="#000" stroke="#000" stroke-width="0.15">(b)</text></svg></body></html>
